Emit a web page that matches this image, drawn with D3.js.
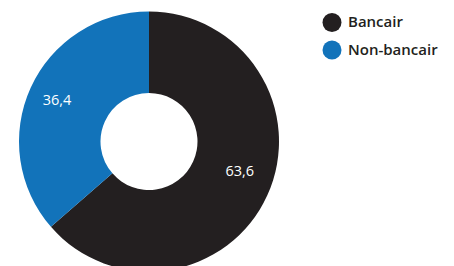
<!DOCTYPE html>
<html><head><meta charset="utf-8">
<script src="https://cdn.jsdelivr.net/npm/d3@7"></script>
<style>html,body{margin:0;padding:0;background:#fff;}svg{display:block;}</style>
</head><body>
<svg id="chart" width="454" height="266"></svg>
<script>
const categories = ["Bancair", "Non-bancair"];
const values = [63.6, 36.4];
const valueLabels = ["63,6", "36,4"];
const colors = ["#231f20", "#1273ba"];

const svg = d3.select("#chart");
const cx = 149, cy = 141.5, R = 130, r = 48.5;
const g = svg.append("g").attr("transform", `translate(${cx},${cy})`);

const pie = d3.pie().sort(null).value(d => d.v);
const data = pie(categories.map((c, i) => ({c, v: values[i], l: valueLabels[i], col: colors[i]})));
const arc = d3.arc().innerRadius(r).outerRadius(R);
g.selectAll("path.slice").data(data).join("path")
  .attr("class", "slice").attr("d", arc).attr("fill", d => d.data.col);

// label placement: point on a label ring near each slice's mid angle
const labelR = [95.5, 101];
const nudge = [-0.113, 0];
const pos = (d, i) => { const a = (d.startAngle + d.endAngle) / 2 + nudge[i]; return [labelR[i] * Math.sin(a), -labelR[i] * Math.cos(a)]; };
g.selectAll("text.val").data(data).join("text")
  .attr("class", "val")
  .attr("x", (d, i) => pos(d, i)[0])
  .attr("y", (d, i) => pos(d, i)[1])
  .attr("text-anchor", "middle").attr("dy", "0.36em")
  .attr("fill", "#fff").attr("font-family", "'Open Sans', sans-serif").attr("font-size", 14.5)
  .text(d => d.data.l);

const legend = svg.append("g").attr("transform", "translate(332,22.5)");
const item = legend.selectAll("g").data(categories).join("g")
  .attr("transform", (d, i) => `translate(0,${i * 27.5})`);
item.append("circle").attr("r", 9.5).attr("fill", (d, i) => colors[i]);
item.append("text").attr("x", 16).attr("y", 4.5)
  .attr("font-family", "'Open Sans', sans-serif").attr("font-weight", 600).attr("font-size", 15)
  .attr("fill", "#231f20").text(d => d);
</script>
</body></html>
